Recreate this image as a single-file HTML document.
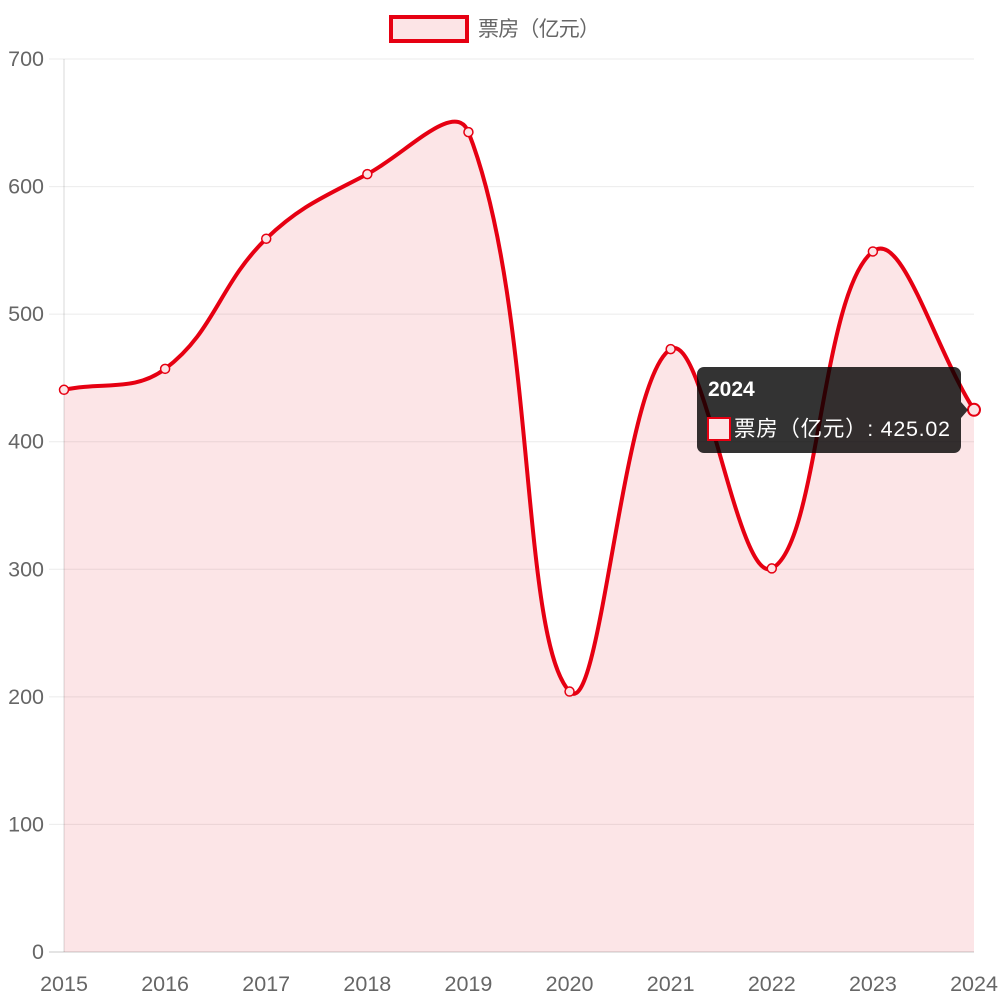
<!DOCTYPE html>
<html><head><meta charset="utf-8"><style>
html,body{margin:0;padding:0;background:#fff;}
svg{display:block;font-family:"Liberation Sans","Noto Sans CJK SC",sans-serif;}
</style></head><body>
<svg id="s" width="1005" height="1005" viewBox="0 0 1005 1005">
<g id="grid" stroke="rgba(0,0,0,0.08)" stroke-width="1"></g>
<g id="ylab" fill="#666" font-size="21.5" text-anchor="end"></g>
<g id="xlab" fill="#666" font-size="21.5" text-anchor="middle"></g>
<path id="fill" fill="rgba(230,0,18,0.1)" stroke="none"/>
<line x1="64" y1="59" x2="64" y2="952" stroke="rgba(0,0,0,0.15)"/>
<line x1="49" y1="952" x2="974" y2="952" stroke="rgba(0,0,0,0.15)"/>
<path id="line" fill="none" stroke="#e60012" stroke-width="4"/>
<g id="pts"></g>
<rect x="391" y="17" width="76" height="24" fill="#fce4e6" stroke="#e60012" stroke-width="4"/>
<text x="478" y="36" fill="#666" font-size="21" textLength="122">票房（亿元）</text>
<rect x="697" y="367" width="264" height="86" rx="7" fill="rgba(0,0,0,0.8)"/>
<path d="M961 402 L968 410 L961 418 Z" fill="rgba(0,0,0,0.8)"/>
<text x="708" y="396" fill="#fff" font-size="21" font-weight="bold">2024</text>
<rect x="708" y="418" width="22" height="22" fill="#fce4e6" stroke="#e60012" stroke-width="2"/>
<text x="734" y="436" fill="#fff" font-size="21.5" textLength="216">票房（亿元）: 425.02</text>
</svg>
<script>
var ns="http://www.w3.org/2000/svg";
function el(t,a,p,txt){var e=document.createElementNS(ns,t);for(var k in a)e.setAttribute(k,a[k]);if(txt!=null)e.textContent=txt;document.getElementById(p).appendChild(e);return e;}
var Y0=952,TOPY=59,HH=Y0-TOPY;
function Y(v){return Y0-v/700*HH;}
for(var v=0;v<=700;v+=100){el("line",{x1:49,x2:974,y1:Y(v),y2:Y(v)},"grid");el("text",{x:44,y:Y(v)+7},"ylab",v);}
var data=[440.69,457.12,559.11,609.76,642.66,204.17,472.58,300.67,549.15,425.02];
var P=data.map(function(v,i){return {x:64+i*(974-64)/9,y:Y(v)};});
for(var i=0;i<10;i++){el("text",{x:P[i].x,y:991},"xlab",2015+i);}
var t=0.4,cp=[];
for(var i=0;i<P.length;i++){var pr=P[Math.max(0,i-1)],c=P[i],nx=P[Math.min(P.length-1,i+1)];
var d01=Math.hypot(c.x-pr.x,c.y-pr.y),d12=Math.hypot(nx.x-c.x,nx.y-c.y);
var s01=d01/(d01+d12)||0,s12=d12/(d01+d12)||0;var fa=t*s01,fb=t*s12;
cp.push({px:c.x-fa*(nx.x-pr.x),py:c.y-fa*(nx.y-pr.y),nx:c.x+fb*(nx.x-pr.x),ny:c.y+fb*(nx.y-pr.y)});}
var d="M"+P[0].x+" "+P[0].y;
for(var i=1;i<P.length;i++){d+=" C"+cp[i-1].nx+" "+cp[i-1].ny+" "+cp[i].px+" "+cp[i].py+" "+P[i].x+" "+P[i].y;}
document.getElementById("line").setAttribute("d",d);
document.getElementById("fill").setAttribute("d",d+" L974 "+Y0+" L64 "+Y0+" Z");
for(var i=0;i<P.length;i++){el("circle",{cx:P[i].x,cy:P[i].y,r:i==9?6:4.5,fill:"#fce4e6",stroke:"#e60012","stroke-width":i==9?2:1.5},"pts");}
</script>
</body></html>
